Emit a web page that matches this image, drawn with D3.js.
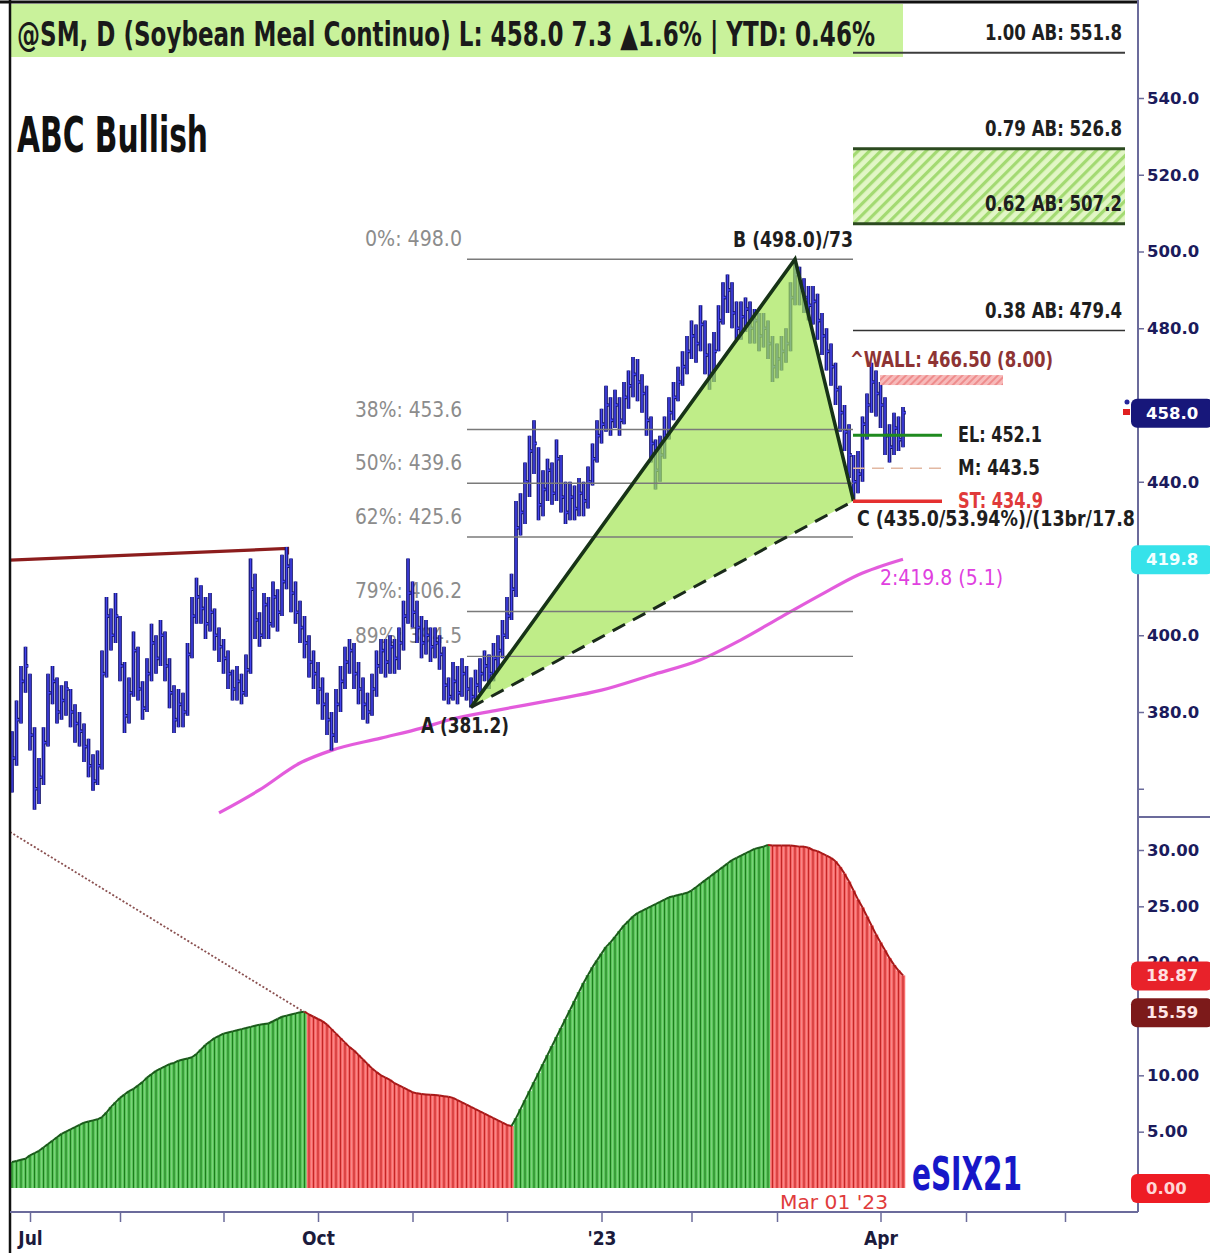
<!DOCTYPE html>
<html><head><meta charset="utf-8">
<script src="https://cdn.jsdelivr.net/npm/d3@7"></script>
<style>body{margin:0;background:#fff}svg{display:block}</style>
</head><body><svg id="c" width="1210" height="1253"></svg>
<script>
// ---------------- DATA ----------------
const startDate = "2022-06-27";
const holidays = ["2022-07-04","2022-09-05","2022-11-24","2022-12-26","2023-01-02","2023-01-16","2023-02-20","2023-04-07","2023-05-29","2023-06-19"];
const barHigh = [375,383,392,397,390,376,368,376,390,392,
389,387,388,386,382,380,377,373,369,370,
396,410,407,411,405,393,389,401,397,388,
394,403,400,404,401,394,387,386,385,398,
410,415,413,410,411,407,402,399,396,391,
392,390,395,420,416,406,411,410,414,412,
421,423,420,414,409,405,400,396,393,389,
385,380,386,392,397,399,398,393,389,385,
390,396,399,399,400,399,402,409,420,414,
409,405,404,402,402,400,397,389,393,392,
394,392,389,391,394,396,395,398,400,404,
410,416,435,437,445,452,456,449,443,446,
445,451,447,440,440,439,441,440,444,450,
456,459,465,462,464,462,466,469,472.5,472,
468,465,457,451,452,457,462,466,470,474,
478,482,481,486,482,476,479,486,492,494,
492,487,487,488,487,485,484,484,482,478,
476,478,480,492,498,496,493,491,491,489,
484,480,476,471,465,460,455,447,448,457,
463,471,469,466,462,455,458,457,459.5];
const barLow = [359,366,377,385,370,354.5,356,361,371,382,
377,378,379,376,372,371,367,363,359.5,361,
365,389,396,398,388,374.5,377,384,383,378,
380,388,390,392,388,381,374.5,376,376,379,
394,403,403,399,401,396,393,390,386,383,
383,382,384,390,399,397,399,399,402,401,
405,412,406,403,398,394,389,386,382,378,
374,370,372,380,386,390,386,382,378,377,
379,384,390,389,390,390,391,396,403,402,
398,394,395,393,394,391,383,382,383,382,
384,383,381.2,383,385,388,386,388,391,394,
399,404,410,426,429,436,442,430,431,435,
434,435,432,429,430,430,431,431,433,439,
445,450,453,452,454,452,455,459,462,461,
458,452,445,438,440,446,451,456,461,465,
468,472,471,474,468,464,466,474,481,484,
480,477,477,479,476,476,474,475,472,466,
467,469,471,474,486,486,484,482,481,477,
473,469,465,460,453,448,441,435,437,440,
451,458,457,454,447,445,447,448,449];
const barClose = [368,378,388,392,374,360,363,372,385,388,
380,383,386,380,377,375,371,366,362,366,
390,405,400,405,392,379,385,396,386,381,
390,398,394,400,392,385,378,382,380,395,
405,410,407,403,406,400,397,394,390,386,
388,385,391,412,404,400,408,403,410,406,
414,418,411,406,402,398,393,390,386,382,
378,374,382,388,393,396,390,386,382,380,
386,392,396,393,397,394,398,405,411,406,
402,398,400,397,398,395,387,384,388,385,
390,386,384,387,390,392,390,394,396,400,
405,412,428,432,440,448,450,434,438,443,
437,446,436,432,436,433,437,435,440,446,
452,455,460,456,460,456,462,465,468,466,
463,456,450,443,447,452,458,462,466,470,
474,478,476,481,473,468,474,482,488,490,
484,480,483,485,480,482,478,480,476,470,
472,474,476,488,494,490,488,486,487,482,
478,474,470,464,458,453,447,440,442,455,
460,466,463,460,452,449,454,451,458];
const maIndex  = [46,55,64,71,82,91,97,108,120,131,142,153,162,171,180,188,198];
const maValues = [353.7,359.7,366.7,370,373.2,375.8,377.9,380.5,383.1,385.7,389.6,393.6,398.8,404.8,410.7,415.7,419.8];
const oscValues = [2.3,2.4,2.5,2.6,2.9,3.1,3.3,3.6,3.9,4.2,
4.5,4.8,5.0,5.2,5.4,5.6,5.8,5.9,6.0,6.1,
6.3,6.7,7.2,7.6,8.0,8.3,8.6,8.8,9.1,9.4,
9.8,10.1,10.4,10.6,10.8,11.0,11.1,11.3,11.4,11.5,
11.6,11.9,12.3,12.7,13.0,13.3,13.5,13.7,13.8,13.9,
14.0,14.1,14.2,14.3,14.4,14.5,14.55,14.6,14.8,15.0,
15.2,15.3,15.4,15.5,15.6,15.65,15.4,15.2,15.0,14.8,
14.5,14.1,13.7,13.3,12.9,12.5,12.2,11.8,11.4,11.0,
10.6,10.3,10.0,9.8,9.6,9.3,9.1,8.9,8.7,8.5,
8.4,8.35,8.3,8.28,8.26,8.2,8.15,8.1,8.0,7.8,
7.6,7.4,7.2,7.0,6.8,6.6,6.4,6.2,6.0,5.8,
5.6,5.5,6.2,7.0,7.8,8.6,9.4,10.2,11.0,11.8,
12.6,13.4,14.2,15.0,15.8,16.6,17.4,18.2,18.9,19.6,
20.2,20.8,21.4,21.8,22.3,22.8,23.3,23.7,24.1,24.4,
24.6,24.8,25.0,25.2,25.4,25.6,25.8,25.9,26.0,26.1,
26.2,26.4,26.7,27.0,27.3,27.6,27.9,28.2,28.5,28.8,
29.1,29.3,29.5,29.7,29.9,30.1,30.2,30.3,30.45,30.4,
30.4,30.4,30.4,30.4,30.35,30.3,30.3,30.2,30.0,29.9,
29.7,29.5,29.3,29.0,28.5,27.9,27.2,26.4,25.6,24.9,
24.1,23.3,22.5,21.8,21.1,20.4,19.8,19.3,18.87];
const fibLabels = ["0%: 498.0","38%: 453.6","50%: 439.6","62%: 425.6","79%: 406.2","89%: 394.5"];
const fibValues = [498.0,453.6,439.6,425.6,406.2,394.5];
const abLabels = ["1.00 AB: 551.8","0.79 AB: 526.8","0.62 AB: 507.2","0.38 AB: 479.4"];
const abValues = [551.8,526.8,507.2,479.4];
const pointA = {idx:102, value:381.2, label:"A (381.2)"};
const pointB = {idx:174, value:498.0, label:"B (498.0)/73"};
const pointC = {idx:187, value:435.0, label:"C (435.0/53.94%)/(13br/17.8"};
const tradeLabels = ["EL: 452.1","M: 443.5","ST: 434.9"];
const tradeValues = [452.1,443.5,434.9];
const wallLabel = "^WALL: 466.50 (8.00)", wallValue = 466.5;
const resistIdx = [0,61], resistValues = [419.6,422.6];
const oscTrendIdx = [0,65], oscTrendValues = [31.6,15.6];
const priceTicks = [360,380,400,420,440,460,480,500,520,540];
const priceTickLabelled = [380,400,440,480,500,520,540];
const oscTicks = [0,5,10,15,20,25,30];
const oscTickLabelled = [5,10,20,25,30];
const monthLabels = {"2022-07":"Jul","2022-10":"Oct","2023-01":"'23","2023-04":"Apr"};
const lastPrice = 458.0, maLast = 419.8, oscA = 18.87, oscB = 15.59;
const headerText = "@SM, D (Soybean Meal Continuo) L: 458.0 7.3 \u25B21.6% | YTD: 0.46%";
const titleText = "ABC Bullish";
const maText = "2:419.8 (5.1)";
const brandText = "eSIX21";
const markerText = "Mar 01 '23";

// ---------------- DATES ----------------
const fmt = d3.utcFormat("%Y-%m-%d");
const dates = [];
{
  let d = new Date(startDate + "T00:00:00Z");
  const end = new Date("2023-06-30T00:00:00Z");
  while (d <= end) {
    const wd = d.getUTCDay();
    if (wd !== 0 && wd !== 6 && !holidays.includes(fmt(d))) dates.push(new Date(d));
    d = new Date(d.getTime() + 86400000);
  }
}
const monthTicks = [];
dates.forEach((d,i)=>{ if(i>0 && d.getUTCMonth()!==dates[i-1].getUTCMonth()) monthTicks.push(i); });

// ---------------- SCALES ----------------
const svg = d3.select("#c");
const x = d3.scaleLinear().domain([0,250]).range([12,1137]);
const yP = d3.scaleLinear().domain([380,540]).range([712,98]);
const yO = d3.scaleLinear().domain([0,30]).range([1188,850]);
const COND = "'Liberation Sans Narrow','DejaVu Sans Condensed','Roboto Condensed',sans-serif";

const defs = svg.append("defs");
const pat = defs.append("pattern").attr("id","hatch").attr("patternUnits","userSpaceOnUse")
  .attr("width",8).attr("height",8).attr("patternTransform","rotate(45)");
pat.append("rect").attr("width",8).attr("height",8).attr("fill","#e2f6c6");
pat.append("rect").attr("width",3.2).attr("height",8).attr("fill","#a3da72");
const pat2 = defs.append("pattern").attr("id","hatchPink").attr("patternUnits","userSpaceOnUse")
  .attr("width",5).attr("height",5).attr("patternTransform","rotate(45)");
pat2.append("rect").attr("width",5).attr("height",5).attr("fill","#f7baba");
pat2.append("rect").attr("width",2).attr("height",5).attr("fill","#ee8c8c");
defs.append("clipPath").attr("id","clipP").append("rect").attr("x",10).attr("y",0).attr("width",1128).attr("height",818);
defs.append("clipPath").attr("id","clipO").append("rect").attr("x",10).attr("y",818).attr("width",1128).attr("height",394);

function txt(g, s, xx, yy, o) {
  const t = g.append("text").attr("x",xx).attr("y",yy).text(s)
    .attr("font-family", o.family || COND).attr("font-size", o.size || 22)
    .attr("font-weight", o.weight || "bold").attr("fill", o.fill || "#222")
    .attr("text-anchor", o.anchor || "start");
  if (o.len) t.attr("textLength", o.len).attr("lengthAdjust","spacingAndGlyphs");
  return t;
}

// ---------------- PRICE PANEL ----------------
const gp = svg.append("g").attr("clip-path","url(#clipP)");

gp.append("rect").attr("x",10).attr("y",4).attr("width",893).attr("height",53).attr("fill","#c9f29b");

gp.append("rect").attr("x",853).attr("y",yP(abValues[1])).attr("width",272)
  .attr("height",yP(abValues[2])-yP(abValues[1])).attr("fill","url(#hatch)");

fibLabels.forEach((s,k)=>{
  txt(gp, s, 462, yP(fibValues[k]) - 13, {anchor:"end", size:21, weight:"normal", fill:"#8c8c8c",
    family:"'DejaVu Sans Condensed','Liberation Sans Narrow',sans-serif", len: k===0?97:107});
});

gp.append("path").attr("d", d3.line()([[x(resistIdx[0])-2, yP(resistValues[0])],[x(resistIdx[1])+1, yP(resistValues[1])],[x(resistIdx[1])+1, yP(resistValues[1])+6]]))
  .attr("fill","none").attr("stroke","#8c1d1d").attr("stroke-width",3.2);

gp.append("path").datum(maIndex.map((d,k)=>[x(d), yP(maValues[k])]))
  .attr("d", d3.line().curve(d3.curveMonotoneX))
  .attr("fill","none").attr("stroke","#e04ad8").attr("stroke-width",3.2).attr("opacity",0.9);

const barPath = i => `M${x(i)},${yP(barHigh[i])}V${yP(barLow[i])}M${x(i)},${yP(barClose[i])}H${x(i)+2.8}`;
const bars = gp.append("g");
bars.selectAll("path.o").data(barClose.map((_,i)=>i)).join("path").attr("class","o")
  .attr("d", barPath).attr("fill","none").attr("stroke","#12126a").attr("stroke-width",3.7);
bars.selectAll("path.i").data(barClose.map((_,i)=>i)).join("path").attr("class","i")
  .attr("d", barPath).attr("fill","none").attr("stroke","#4444ee").attr("stroke-width",1.5);

const pA=[x(pointA.idx), yP(pointA.value)], pB=[x(pointB.idx), yP(pointB.value)], pC=[x(pointC.idx), yP(pointC.value)];
gp.append("path").attr("d", d3.line()([pA,pB,pC]) + "Z").attr("fill","#a4e656").attr("opacity",0.7);

fibValues.forEach(v=>{
  gp.append("line").attr("x1",467).attr("x2",853).attr("y1",yP(v)).attr("y2",yP(v))
    .attr("stroke","#7a7a7a").attr("stroke-width",1.4);
});

gp.append("path").attr("d", d3.line()([pA,pB,pC])).attr("fill","none")
  .attr("stroke","#173317").attr("stroke-width",3.6).attr("stroke-linejoin","miter");
gp.append("path").attr("d", d3.line()([pA,pC])).attr("fill","none")
  .attr("stroke","#1a2a1a").attr("stroke-width",3).attr("stroke-dasharray","14,9");

const abStroke = ["#3c3c3c","#2c4a20","#2c4a20","#333"];
const abWidth = [2,3,3,1.6];
abValues.forEach((v,k)=>{
  gp.append("line").attr("x1",853).attr("x2",1125).attr("y1",yP(v)).attr("y2",yP(v))
    .attr("stroke",abStroke[k]).attr("stroke-width",abWidth[k]);
  txt(gp, abLabels[k], 1122, yP(v) - 13, {anchor:"end", size:22, fill:"#1e1e1e", len:137});
});

gp.append("rect").attr("x",880).attr("y",yP(wallValue)-5).attr("width",123).attr("height",10).attr("fill","url(#hatchPink)");
txt(gp, wallLabel, 850, yP(wallValue) - 13, {size:22, fill:"#8e3434", len:203});

gp.append("line").attr("x1",853).attr("x2",942).attr("y1",yP(tradeValues[0])).attr("y2",yP(tradeValues[0])).attr("stroke","#1f8a1f").attr("stroke-width",3);
gp.append("line").attr("x1",853).attr("x2",942).attr("y1",yP(tradeValues[1])).attr("y2",yP(tradeValues[1])).attr("stroke","#e2b8a2").attr("stroke-width",1.6).attr("stroke-dasharray","12,7");
gp.append("line").attr("x1",853).attr("x2",942).attr("y1",yP(tradeValues[2])).attr("y2",yP(tradeValues[2])).attr("stroke","#e53030").attr("stroke-width",3.5);
txt(gp, tradeLabels[0], 958, yP(tradeValues[0]) + 7, {size:22, fill:"#1e1e1e", len:84});
txt(gp, tradeLabels[1], 958, yP(tradeValues[1]) + 7, {size:22, fill:"#1e1e1e", len:82});
txt(gp, tradeLabels[2], 958, yP(tradeValues[2]) + 7, {size:22, fill:"#e03a3a", len:85});

txt(gp, pointB.label, pB[0]-2, pB[1] - 12, {anchor:"middle", size:22, fill:"#1e1e1e", len:120});
txt(gp, pointA.label, pA[0]-6, pA[1] + 26, {anchor:"middle", size:22, fill:"#1e1e1e", len:88});
txt(gp, pointC.label, 857, pC[1] + 25, {size:22, fill:"#1e1e1e", len:278});
txt(gp, maText, 880, yP(maLast) + 26, {size:21, weight:"normal", fill:"#e040e0", len:123,
  family:"'DejaVu Sans Condensed','Liberation Sans Narrow',sans-serif"});

txt(svg, headerText, 17, 46, {size:34, fill:"#1a1a1a", len:858});
txt(svg, titleText, 17, 152, {size:50, fill:"#111", len:191});

// ---------------- OSCILLATOR PANEL ----------------
const go = svg.append("g").attr("clip-path","url(#clipO)");
const oscColor = [];
oscValues.forEach((v,i)=>{
  if (i===0) oscColor.push("g");
  else if (v > oscValues[i-1]) oscColor.push("g");
  else if (v < oscValues[i-1]) oscColor.push("r");
  else oscColor.push(oscColor[i-1]);
});
const fillC = {g:"#5ec85e", r:"#f86c6c"}, lineC = {g:"#1d7d1d", r:"#c42626"}, topC = {g:"#1a5a1a", r:"#a81818"};
go.selectAll("rect.h").data(oscValues).join("rect").attr("class","h")
  .attr("x",(d,i)=>x(i)-2.25).attr("width",4.5).attr("y",d=>yO(d)).attr("height",d=>yO(0)-yO(d))
  .attr("fill",(d,i)=>fillC[oscColor[i]]);
go.selectAll("line.h").data(oscValues).join("line").attr("class","h")
  .attr("x1",(d,i)=>x(i)).attr("x2",(d,i)=>x(i)).attr("y1",d=>yO(d)).attr("y2",yO(0))
  .attr("stroke",(d,i)=>lineC[oscColor[i]]).attr("stroke-width",1.1);
oscValues.forEach((v,i)=>{
  if (i===0) return;
  go.append("line").attr("x1",x(i-1)).attr("x2",x(i)).attr("y1",yO(oscValues[i-1])).attr("y2",yO(v))
    .attr("stroke",topC[oscColor[i]]).attr("stroke-width",2);
});
go.append("path").attr("d", d3.line()([[x(oscTrendIdx[0])-2, yO(oscTrendValues[0])],[x(oscTrendIdx[1]), yO(oscTrendValues[1])]]))
  .attr("stroke","#8a5050").attr("stroke-width",1.8).attr("stroke-dasharray","2,2").attr("fill","none");

txt(svg, brandText, 912, 1190, {size:46, fill:"#1717c8", len:110});
txt(svg, markerText, 780, 1209, {size:20, weight:"normal", fill:"#e03c3c", len:108});

// ---------------- AXES ----------------
svg.append("line").attr("x1",0).attr("x2",1138).attr("y1",2).attr("y2",2).attr("stroke","#111").attr("stroke-width",3);
svg.append("line").attr("x1",10).attr("x2",10).attr("y1",0).attr("y2",1253).attr("stroke","#111").attr("stroke-width",2.5);
svg.append("line").attr("x1",1138).attr("x2",1138).attr("y1",0).attr("y2",1212).attr("stroke","#6b6b9b").attr("stroke-width",2);
svg.append("line").attr("x1",1138).attr("x2",1210).attr("y1",817).attr("y2",817).attr("stroke","#6b6b9b").attr("stroke-width",2);
svg.append("line").attr("x1",10).attr("x2",1138).attr("y1",1212).attr("y2",1212).attr("stroke","#6b6b9b").attr("stroke-width",2);

const gAP = svg.append("g").attr("transform","translate(1138,0)")
  .call(d3.axisRight(yP).tickValues(priceTicks).tickSize(6).tickPadding(3)
    .tickFormat(d=>priceTickLabelled.includes(d) ? d.toFixed(1) : ""));
gAP.select(".domain").remove();
gAP.selectAll("line").attr("stroke","#6b6b9b").attr("stroke-width",1.5);
gAP.selectAll("text").attr("fill","#1b1b5c").style("font","bold 16.5px 'DejaVu Sans', sans-serif");

const gAO = svg.append("g").attr("transform","translate(1138,0)")
  .call(d3.axisRight(yO).tickValues(oscTicks).tickSize(6).tickPadding(3)
    .tickFormat(d=>oscTickLabelled.includes(d) ? d.toFixed(2) : ""));
gAO.select(".domain").remove();
gAO.selectAll("line").attr("stroke","#6b6b9b").attr("stroke-width",1.5);
gAO.selectAll("text").attr("fill","#1b1b5c").style("font","bold 16.5px 'DejaVu Sans', sans-serif");

const gX = svg.append("g").attr("transform","translate(0,1212)")
  .call(d3.axisBottom(x).tickValues(monthTicks).tickSize(10).tickPadding(10)
    .tickFormat(i=>monthLabels[d3.utcFormat("%Y-%m")(dates[i])] || ""));
gX.select(".domain").remove();
gX.selectAll("line").attr("stroke","#6b6b9b").attr("stroke-width",1.5);
gX.selectAll("text").attr("fill","#1b1b3c").style("font","bold 19px " + COND);

function badge(yy, fill, tcol, label) {
  svg.append("rect").attr("x",1131).attr("y",yy-14).attr("width",82).attr("height",29).attr("rx",6).attr("fill",fill);
  svg.append("text").attr("x",1146).attr("y",yy+6).text(label).attr("fill",tcol)
    .style("font","bold 16.5px 'DejaVu Sans', sans-serif");
}
badge(yP(lastPrice), "#17177a", "#ffffff", lastPrice.toFixed(1));
badge(yP(maLast), "#36e2ea", "#f4ffff", maLast.toFixed(1));
badge(yO(oscA), "#e8222a", "#ffe0e0", oscA.toFixed(2));
badge(yO(oscB), "#7c1a1a", "#ffe6e6", oscB.toFixed(2));
badge(yO(0), "#ee1c24", "#ffd6d6", (0).toFixed(2));

svg.append("circle").attr("cx",1127).attr("cy",402).attr("r",2.5).attr("fill","#24249a");
svg.append("rect").attr("x",1123).attr("y",409).attr("width",7).attr("height",6).attr("fill","#e02020");
</script></body></html>
